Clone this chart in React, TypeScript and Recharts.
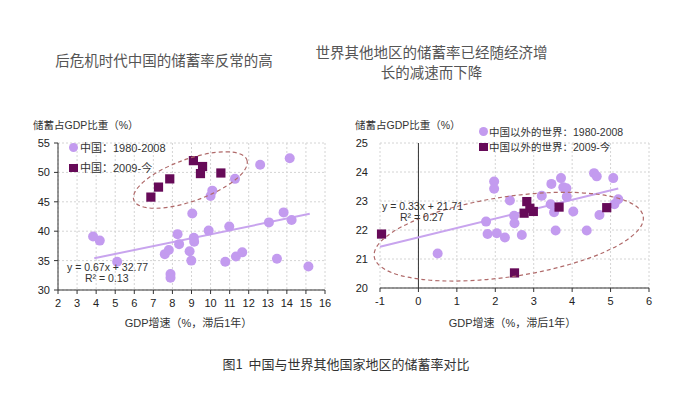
import React from 'react';
import {
  ScatterChart,
  Scatter,
  XAxis,
  YAxis,
  CartesianGrid,
  ReferenceLine,
  ReferenceDot,
} from 'recharts';

// ---- Left chart: China ----
const chinaPre: [number, number][] = [
  [3.84, 39.1], [4.19, 38.4], [5.1, 34.8], [7.6, 36.1], [7.81, 36.8], [7.9, 32.7],
  [7.9, 32.1], [8.27, 39.5], [8.35, 37.8], [8.9, 36.6], [8.99, 35.0], [9.04, 43.0],
  [9.12, 38.9], [9.14, 38.2], [9.9, 40.1], [10.0, 46.0], [10.09, 46.9], [10.77, 34.8],
  [10.98, 40.8], [11.28, 48.9], [11.33, 35.7], [11.66, 36.4], [12.6, 51.3], [13.06, 41.5],
  [13.48, 35.3], [13.83, 43.2], [14.15, 52.4], [14.25, 41.9], [15.13, 34.0],
];
const chinaPost: [number, number][] = [
  [6.87, 45.8], [7.27, 47.5], [7.86, 48.9], [9.1, 52.0], [9.58, 51.0], [9.47, 49.8], [10.54, 49.9],
];
const chinaTrend: [number, number][] = [[3.9, 35.4], [15.2, 42.95]];
const chinaXTicks = [2, 3, 4, 5, 6, 7, 8, 9, 10, 11, 12, 13, 14, 15, 16];
const chinaYTicks = [30, 35, 40, 45, 50, 55];
const chinaEllipseCenter: [number, number] = [8.94, 48.7];

// ---- Right chart: rest of world ----
const worldPre: [number, number][] = [
  [0.5, 21.19], [1.76, 22.29], [1.8, 21.86], [1.97, 23.67], [1.97, 23.42], [2.04, 21.89],
  [2.25, 21.74], [2.38, 23.02], [2.49, 22.49], [2.5, 22.23], [2.69, 21.83], [3.21, 23.18],
  [3.46, 23.59], [3.44, 22.89], [3.53, 22.61], [3.57, 21.98], [3.71, 23.79], [3.77, 23.47],
  [3.85, 23.44], [3.86, 23.15], [4.03, 22.64], [4.38, 21.98], [4.57, 23.96], [4.64, 23.85],
  [4.71, 22.52], [5.07, 23.79], [5.1, 22.89], [5.2, 23.06],
];
const worldPost: [number, number][] = [
  [-0.96, 21.86], [2.5, 20.52], [2.82, 22.98], [2.75, 22.58], [2.99, 22.64], [2.9, 22.75],
  [3.66, 22.79], [4.9, 22.77],
];
const worldTrend: [number, number][] = [[-1, 21.42], [5.2, 23.43]];
const worldXTicks = [-1, 0, 1, 2, 3, 4, 5, 6];
const worldYTicks = [20, 21, 22, 23, 24, 25];
const worldEllipseCenter: [number, number] = [2.35, 21.77];

const LIGHT = '#c39bef';
const DARK = '#660a58';
const TREND = '#c8a4ee';
const ELLIPSE = '#b06a6a';
const SANS = '"Liberation Sans", Arial, "Noto Sans CJK SC", sans-serif';

const toPts = (a: [number, number][]) => a.map(([x, y]) => ({ x, y }));

const Circle = (p: any) => <circle cx={p.cx} cy={p.cy} r={5} fill={LIGHT} />;
const Square = (p: any) => (
  <rect x={p.cx - 4.6} y={p.cy - 4.6} width={9.2} height={9.2} fill={DARK} />
);

const makeEllipse = (rx: number, ry: number, angle: number) => (p: any) => (
  <ellipse
    cx={p.cx}
    cy={p.cy}
    rx={rx}
    ry={ry}
    transform={`rotate(${angle} ${p.cx} ${p.cy})`}
    fill="none"
    stroke={ELLIPSE}
    strokeWidth={1.2}
    strokeDasharray="4 3"
  />
);

const Txt = ({
  x, y, size, children, center, color = '#333', family = SANS,
}: any) => (
  <div
    style={{
      position: 'absolute',
      left: x,
      top: y - size / 2,
      fontSize: size,
      lineHeight: `${size}px`,
      whiteSpace: 'nowrap',
      color,
      fontFamily: family,
      transform: center ? 'translateX(-50%)' : undefined,
    }}
  >
    {children}
  </div>
);

const tickStyle = { fontSize: 11, fill: '#222', fontFamily: SANS };

export default function App() {
  return (
    <div
      style={{
        position: 'absolute',
        left: 0,
        top: 0,
        width: 678,
        height: 397,
        background: '#fff',
        overflow: 'hidden',
      }}
    >
      <div style={{ position: 'absolute', left: 0, top: 0 }}>
        <ScatterChart width={340} height={340} margin={{ top: 143, right: 15, bottom: 20, left: 28 }}>
          <CartesianGrid stroke="#d4d4d4" strokeDasharray="2 2" />
          <XAxis
            type="number"
            dataKey="x"
            domain={[2, 16]}
            ticks={chinaXTicks}
            interval={0}
            height={30}
            tickSize={4}
            tickMargin={5}
            tick={tickStyle}
            stroke="#333"
          />
          <YAxis
            type="number"
            dataKey="y"
            domain={[30, 55]}
            ticks={chinaYTicks}
            interval={0}
            width={30}
            tickSize={4}
            tickMargin={4}
            tick={tickStyle}
            stroke="#333"
          />
          <Scatter data={toPts(chinaPre)} shape={Circle} isAnimationActive={false} />
          <ReferenceLine
            segment={toPts(chinaTrend)}
            stroke={TREND}
            strokeWidth={2}
          />
          <Scatter data={toPts(chinaPost)} shape={Square} isAnimationActive={false} />
          <ReferenceDot
            x={chinaEllipseCenter[0]}
            y={chinaEllipseCenter[1]}
            r={0}
            shape={makeEllipse(60, 21, -19.6)}
          />
        </ScatterChart>
      </div>

      <div style={{ position: 'absolute', left: 340, top: 0 }}>
        <ScatterChart width={338} height={340} margin={{ top: 143, right: 29, bottom: 22, left: 10 }}>
          <CartesianGrid stroke="#d4d4d4" strokeDasharray="2 2" />
          <XAxis
            type="number"
            dataKey="x"
            domain={[-1, 6]}
            ticks={worldXTicks}
            interval={0}
            height={30}
            tickSize={4}
            tickMargin={5}
            tick={tickStyle}
            stroke="#333"
          />
          <YAxis
            type="number"
            dataKey="y"
            domain={[20, 25]}
            ticks={worldYTicks}
            interval={0}
            width={30}
            axisLine={false}
            tickLine={false}
            tickSize={4}
            tickMargin={8}
            tick={tickStyle}
          />
          <ReferenceLine x={0} stroke="#333" strokeWidth={1} />
          <Scatter data={toPts(worldPre)} shape={Circle} isAnimationActive={false} />
          <ReferenceLine
            segment={toPts(worldTrend)}
            stroke={TREND}
            strokeWidth={2}
          />
          <Scatter data={toPts(worldPost)} shape={Square} isAnimationActive={false} />
          <ReferenceDot
            x={worldEllipseCenter[0]}
            y={worldEllipseCenter[1]}
            r={0}
            shape={makeEllipse(136, 40, -8.5)}
          />
        </ScatterChart>
      </div>

      {/* Titles */}
      <Txt x={164} y={60} size={14.5} center color="#555" family='"Noto Sans CJK SC", sans-serif'>
        后危机时代中国的储蓄率反常的高
      </Txt>
      <Txt x={431.5} y={52} size={14.5} center color="#555" family='"Noto Sans CJK SC", sans-serif'>
        世界其他地区的储蓄率已经随经济增
      </Txt>
      <Txt x={431.5} y={72} size={14.5} center color="#555" family='"Noto Sans CJK SC", sans-serif'>
        长的减速而下降
      </Txt>

      {/* Axis titles */}
      <Txt x={33} y={125} size={10.5}>储蓄占GDP比重（%）</Txt>
      <Txt x={355} y={125} size={10.5}>储蓄占GDP比重（%）</Txt>
      <Txt x={188.5} y={323} size={11} center>GDP增速（%，滞后1年）</Txt>
      <Txt x={512.5} y={323} size={11} center>GDP增速（%，滞后1年）</Txt>

      {/* Legends */}
      <div style={{ position: 'absolute', left: 69, top: 143, width: 9, height: 9, borderRadius: 5, background: LIGHT }} />
      <Txt x={80} y={148} size={11}>中国：1980-2008</Txt>
      <div style={{ position: 'absolute', left: 69, top: 163.5, width: 8.5, height: 8.5, background: DARK }} />
      <Txt x={80} y={168} size={11}>中国：2009-今</Txt>

      <div style={{ position: 'absolute', left: 479, top: 127, width: 9, height: 9, borderRadius: 5, background: LIGHT }} />
      <Txt x={489} y={132} size={10.5}>中国以外的世界：1980-2008</Txt>
      <div style={{ position: 'absolute', left: 479, top: 142.5, width: 8.5, height: 8.5, background: DARK }} />
      <Txt x={489} y={147} size={10.5}>中国以外的世界：2009-今</Txt>

      {/* Regression labels */}
      <Txt x={67} y={267} size={10.5}>y = 0.67x + 32.77</Txt>
      <Txt x={85} y={278} size={10.5}>R² = 0.13</Txt>
      <Txt x={382} y={206} size={10.5}>y = 0.33x + 21.71</Txt>
      <Txt x={400} y={217} size={10.5}>R² = 0.27</Txt>

      {/* Caption */}
      <Txt x={346} y={363} size={13} center color="#333" family='"Noto Sans CJK SC", sans-serif'>
        图1&nbsp;&nbsp;中国与世界其他国家地区的储蓄率对比
      </Txt>
    </div>
  );
}
